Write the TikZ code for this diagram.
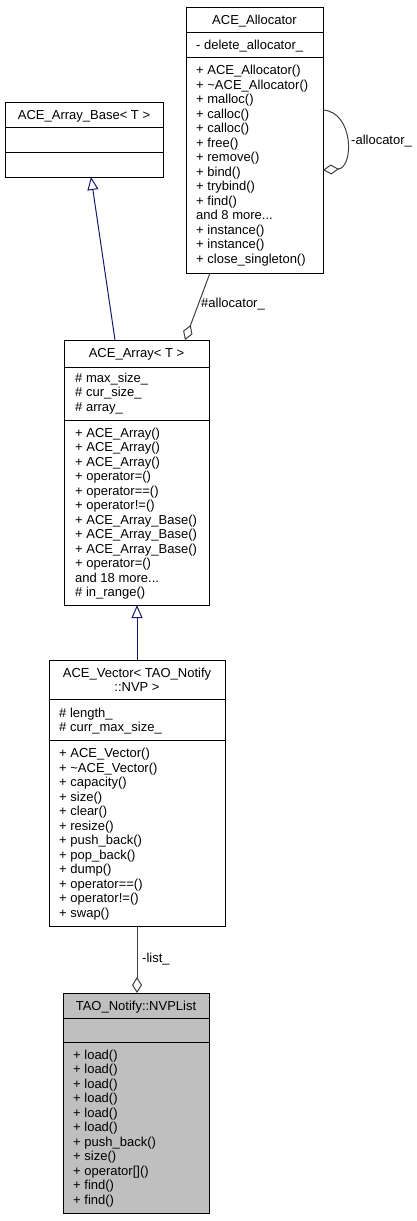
\documentclass[tikz,border=0pt]{standalone}
\usepackage{fontspec}
\setmainfont{Liberation Sans}
\usetikzlibrary{arrows.meta,calc}
\definecolor{inh}{RGB}{25,25,112}
\definecolor{agg}{RGB}{64,64,64}
\definecolor{cur}{RGB}{191,191,191}
\newcommand\mydots{...}
\tikzset{
 cls/.style={draw=black, line width=1pt, anchor=north west, inner sep=0pt, outer sep=0pt},
 div/.style={draw=black, line width=1pt},
 txt/.style={font=\fontsize{13}{14.5}\selectfont, inner sep=0pt, text height=9.5pt, text depth=0pt, anchor=west},
 ttl/.style={txt, anchor=center},
 inherit/.style={draw=inh, line width=1pt, -{Triangle[open, length=13pt, width=11pt]}},
 aggr/.style={draw=agg, line width=1pt, -{Diamond[open, length=16pt, width=10pt]}},
}
\begin{document}
\begin{tikzpicture}[x=1pt,y=-1pt]
\useasboundingbox (0,0) rectangle (417,1221);
% class boxes
\node[cls, minimum width=137pt, minimum height=266pt] (alloc) at (186,7) {};
\node[cls, minimum width=158pt, minimum height=75pt] (base) at (5,102) {};
\node[cls, minimum width=145pt, minimum height=265pt] (arr) at (64,340) {};
\node[cls, minimum width=176pt, minimum height=266pt] (vec) at (49,660) {};
\node[cls, fill=cur, minimum width=146pt, minimum height=220pt] (nvp) at (63,993) {};
% dividers
\draw[div] (alloc.west |- 0,32) -- (alloc.east |- 0,32);
\draw[div] (alloc.west |- 0,57) -- (alloc.east |- 0,57);
\draw[div] (base.west |- 0,127) -- (base.east |- 0,127);
\draw[div] (base.west |- 0,152) -- (base.east |- 0,152);
\draw[div] (arr.west |- 0,367) -- (arr.east |- 0,367);
\draw[div] (arr.west |- 0,420) -- (arr.east |- 0,420);
\draw[div] (vec.west |- 0,699) -- (vec.east |- 0,699);
\draw[div] (vec.west |- 0,740) -- (vec.east |- 0,740);
\draw[div] (nvp.west |- 0,1018) -- (nvp.east |- 0,1018);
\draw[div] (nvp.west |- 0,1042) -- (nvp.east |- 0,1042);
% ACE_Allocator
\node[ttl] (allocT) at (254.5,19.5) {ACE\_Allocator};
\node[txt] (allocA) at (196,44.5) {- delete\_allocator\_};
\foreach \t [count=\i from 0] in {{+ ACE\_Allocator()},{+ \textasciitilde ACE\_Allocator()},{+ malloc()},{+ calloc()},{+ calloc()},{+ free()},{+ remove()},{+ bind()},{+ trybind()},{+ find()},{and 8 more\mydots},{+ instance()},{+ instance()},{+ close\_singleton()}}
  \node[txt] (allocM\i) at (196,70+14.5*\i) {\t};
% ACE_Array_Base
\node[ttl] (baseT) at (84,114.5) {ACE\_Array\_Base< T >};
% ACE_Array
\node[ttl] (arrT) at (136.5,353) {ACE\_Array< T >};
\foreach \t [count=\i from 0] in {{\# max\_size\_},{\# cur\_size\_},{\# array\_}}
  \node[txt] (arrA\i) at (75,377.5+14.5*\i) {\t};
\foreach \t [count=\i from 0] in {{+ ACE\_Array()},{+ ACE\_Array()},{+ ACE\_Array()},{+ operator=()},{+ operator==()},{+ operator!=()},{+ ACE\_Array\_Base()},{+ ACE\_Array\_Base()},{+ ACE\_Array\_Base()},{+ operator=()},{and 18 more\mydots},{\# in\_range()}}
  \node[txt] (arrM\i) at (75,432.5+14.5*\i) {\t};
% ACE_Vector
\node[ttl] (vecT1) at (137,672.5) {ACE\_Vector< TAO\_Notify};
\node[ttl] (vecT2) at (137,687) {::NVP >};
\foreach \t [count=\i from 0] in {{\# length\_},{\# curr\_max\_size\_}}
  \node[txt] (vecA\i) at (59,712.5+14.5*\i) {\t};
\foreach \t [count=\i from 0] in {{+ ACE\_Vector()},{+ \textasciitilde ACE\_Vector()},{+ capacity()},{+ size()},{+ clear()},{+ resize()},{+ push\_back()},{+ pop\_back()},{+ dump()},{+ operator==()},{+ operator!=()},{+ swap()}}
  \node[txt] (vecM\i) at (59,753+14.5*\i) {\t};
% TAO_Notify::NVPList
\node[ttl] (nvpT) at (136,1005.5) {TAO\_Notify::NVPList};
\foreach \t [count=\i from 0] in {{+ load()},{+ load()},{+ load()},{+ load()},{+ load()},{+ load()},{+ push\_back()},{+ size()},{+ operator[]()},{+ find()},{+ find()}}
  \node[txt] (nvpM\i) at (73,1054.5+14.5*\i) {\t};
% edges
\draw[inherit] ($(arr.north west)+(51,0)$) -- ($(base.south west)+(86,0)$);
\draw[inherit] (vec.north) -- (vec.north |- arr.south);
\draw[aggr] ($(alloc.south west)+(24,0)$) -- ($(arr.north west)+(121,0)$);
\node[txt] (lblAlloc) at (201,303) {\#allocator\_};
\draw[aggr] ($(alloc.north east)+(0,103)$) .. controls (354,112) and (354,168) .. ($(alloc.north east)+(0,163)$);
\node[txt] (lblSelf) at (351,140) {-allocator\_};
\draw[aggr] (vec.south) -- (vec.south |- nvp.north);
\node[txt] (lblList) at (142,958) {-list\_};
\end{tikzpicture}
\end{document}
